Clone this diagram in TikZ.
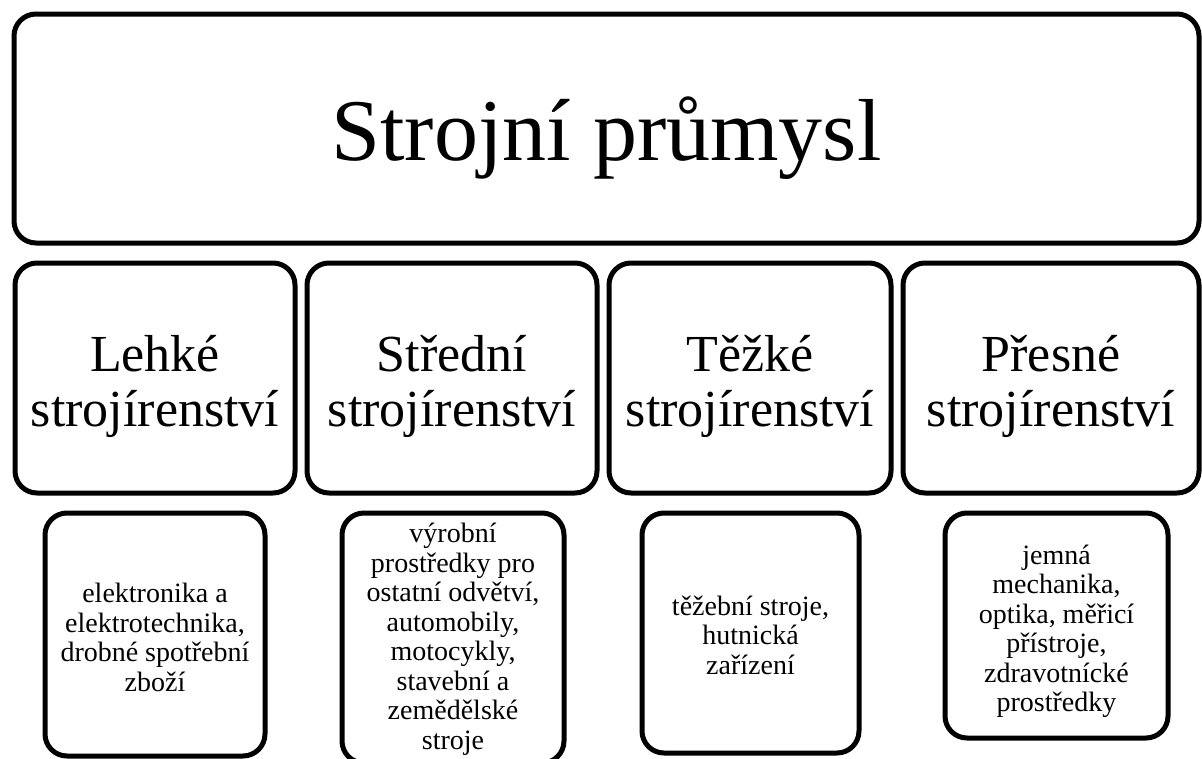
\documentclass[tikz,border=0pt]{standalone}
\usepackage{fontspec}
\setmainfont{Liberation Serif}
\begin{document}
\begin{tikzpicture}[x=1pt,y=-1pt,
  box/.style={draw=black, line width=5pt, rounded corners=22pt, fill=white, inner sep=0pt},
  label/.style={inner sep=0pt, align=center, text=black},
  titletext/.style={label, font=\fontsize{88}{100}\selectfont},
  midtext/.style={label, font=\fontsize{52}{55}\selectfont},
  smalltext/.style={label, font=\fontsize{28}{29.5}\selectfont}]
\useasboundingbox (0,0) rectangle (1202,758);

% top level
\node[box, minimum width=1185, minimum height=229] (top) at (606.5,128.5) {};
\node[titletext] (top-t) at ([yshift=-10pt]top.center) {Strojní průmysl};

% branches
\node[box, minimum width=280, minimum height=230] (lehke)   at (155,378) {};
\node[box, minimum width=290, minimum height=230] (stredni) at (452,378) {};
\node[box, minimum width=282, minimum height=230] (tezke)   at (750,378) {};
\node[box, minimum width=296, minimum height=230] (presne)  at (1051,378) {};
\node[midtext] (lehke-t)   at ([yshift=-8pt]lehke.center)   {Lehké\\strojírenství};
\node[midtext] (stredni-t) at ([yshift=-8pt]stredni.center) {Střední\\strojírenství};
\node[midtext] (tezke-t)   at ([yshift=-8pt]tezke.center)   {Těžké\\strojírenství};
\node[midtext] (presne-t)  at ([yshift=-8pt]presne.center)  {Přesné\\strojírenství};

% examples
\node[box, minimum width=220, minimum height=243] (ex1) at (155,634.5) {};
\node[box, minimum width=222, minimum height=250] (ex2) at (453,638) {};
\node[box, minimum width=217, minimum height=240] (ex3) at (750.5,633) {};
\node[box, minimum width=223, minimum height=225] (ex4) at (1056.5,625.5) {};
\node[smalltext] (ex1-t) at ([yshift=-3pt]ex1.center)
  {elektronika a\\elektrotechnika,\\drobné spotřební\\zboží};
\node[smalltext] (ex2-t) at ([yshift=-1pt]ex2.center)
  {výrobní\\prostředky pro\\ostatní odvětví,\\automobily,\\motocykly,\\stavební a\\zemědělské\\stroje};
\node[smalltext] (ex3-t) at ([yshift=-2pt]ex3.center)
  {těžební stroje,\\hutnická\\zařízení};
\node[smalltext] (ex4-t) at ([yshift=-6pt]ex4.center)
  {jemná\\mechanika,\\optika, měřicí\\přístroje,\\zdravotnícké\\prostředky};
\end{tikzpicture}
\end{document}
